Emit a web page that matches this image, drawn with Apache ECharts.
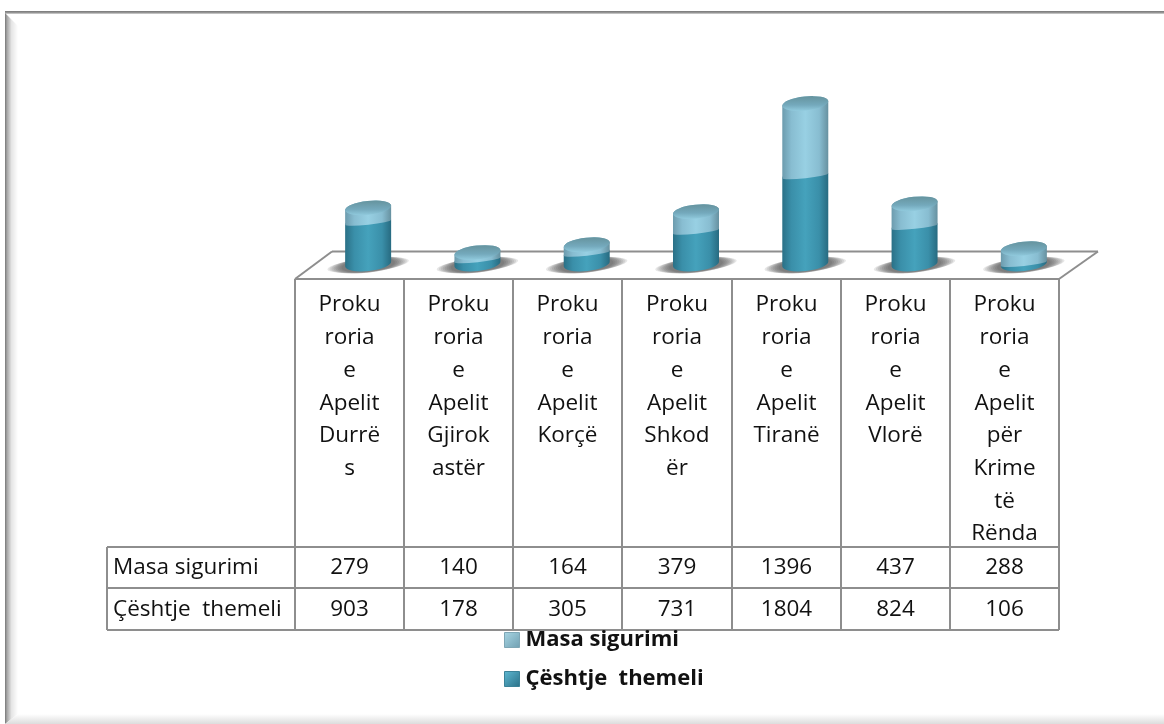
<!DOCTYPE html>
<html><head><meta charset="utf-8">
<style>html,body{margin:0;padding:0;background:#fff}#c{width:1164px;height:724px}</style>
<script src="https://cdn.jsdelivr.net/npm/echarts@6/dist/echarts.min.js"></script>
</head><body><div id="c"></div>
<script>
const categories = ['Proku\nroria\ne\nApelit\nDurrë\ns','Proku\nroria\ne\nApelit\nGjirok\nastër','Proku\nroria\ne\nApelit\nKorçë','Proku\nroria\ne\nApelit\nShkod\nër','Proku\nroria\ne\nApelit\nTiranë','Proku\nroria\ne\nApelit\nVlorë','Proku\nroria\ne\nApelit\npër\nKrime\ntë\nRënda'];
const masaName = 'Masa sigurimi';
const themeliName = 'Çështje  themeli';
const masa = [279,140,164,379,1396,437,288];
const themeli = [903,178,305,731,1804,824,106];

const FONT = '"Open Sans"';
const LINE = '#8e8e8e';
const DEG = 6.2, RAD = DEG*Math.PI/180, R = 23.13;

function grad(stops){ return {type:'linear',x:0,y:0,x2:1,y2:0,colorStops:stops.map(c=>({offset:c[0],color:c[1]}))}; }
const darkFill = grad([[0,'#2a7086'],[0.2,'#3a8fa9'],[0.5,'#45a2bc'],[0.8,'#3a8fa9'],[1,'#276a80']]);
const lightFill = grad([[0,'#6c9bad'],[0.2,'#88bdd1'],[0.5,'#98d0e3'],[0.8,'#88bdd1'],[1,'#66909f']]);
const capFill = {type:'linear',x:0,y:0,x2:0,y2:1,colorStops:[{offset:0,color:'#66949f'},{offset:0.6,color:'#74a9bc'},{offset:1,color:'#8fc8db'}]};

function pts(cx,cy,r){ const dx=r*Math.cos(RAD), dy=r*Math.sin(RAD); return [cx-dx,cy+dy,cx+dx,cy-dy]; }
function body(cx,yTop,yBot,ryTop,ryBot){
  const t=pts(cx,yTop,R), b=pts(cx,yBot,R);
  return `M ${t[0]} ${t[1]} L ${b[0]} ${b[1]} A ${R} ${ryBot} ${-DEG} 0 0 ${b[2]} ${b[3]} L ${t[2]} ${t[3]} A ${R} ${ryTop} ${-DEG} 0 0 ${t[0]} ${t[1]} Z`;
}
function ell(cx,cy,r,ry){
  const p=pts(cx,cy,r);
  return `M ${p[0]} ${p[1]} A ${r} ${ry} ${-DEG} 1 1 ${p[2]} ${p[3]} A ${r} ${ry} ${-DEG} 1 1 ${p[0]} ${p[1]} Z`;
}
const RINGS=[[41,6.5],[39,7],[37,7.5],[35,7.5],[33,7.5],[31,7.5],[29,7],[27,7]];
function renderLower(params,api){
  const idx=api.value(0);
  const top=api.coord([idx,api.value(1)]);
  const base=api.coord([idx,0]);
  const cx=top[0], yBot=base[1]-5;
  const kids=RINGS.map(r=>({type:'path',shape:{pathData:ell(cx,yBot+1,r[0],r[1])},style:{fill:'rgba(55,55,55,0.12)'}}));
  kids.push({type:'path',shape:{pathData:body(cx,top[1],yBot,7,7)},style:{fill:darkFill}});
  return {type:'group',children:kids};
}
function renderUpper(params,api){
  const idx=api.value(0);
  const low=api.coord([idx,api.value(1)]);
  const top=api.coord([idx,api.value(2)]);
  const cx=low[0], yL=low[1], yT=top[1];
  return {type:'group',children:[
    {type:'path',shape:{pathData:body(cx,yT,yL,7,2.5)},style:{fill:lightFill}},
    {type:'path',shape:{pathData:ell(cx,yT,R,7)},style:{fill:capFill}}
  ]};
}

const colX = [295,404,513,622,732,841,950,1059];
const yHead=279,yRow1=547,yRow2=588,yRow3=630,xLeft=107;
const g=[];
function line(x1,y1,x2,y2){ g.push({type:'line',z:1,shape:{x1,y1,x2,y2},style:{stroke:LINE,lineWidth:2}}); }
// outer frame
g.push({type:'rect',z:0,shape:{x:5,y:11,width:1159,height:3},style:{fill:{type:'linear',x:0,y:0,x2:0,y2:1,colorStops:[{offset:0,color:'#777'},{offset:0.6,color:'#999'},{offset:1,color:'#ddd'}]}}});
g.push({type:'polygon',z:0,shape:{points:[[5,13],[18,26],[18,714],[5,724]]},style:{fill:{type:'linear',x:0,y:0,x2:1,y2:0,colorStops:[{offset:0,color:'#777'},{offset:0.15,color:'#a5a5a5'},{offset:0.5,color:'#e5e5e5'},{offset:1,color:'#fff'}]}}});
g.push({type:'polygon',z:0,shape:{points:[[18,714],[1164,714],[1164,724],[5,724]]},style:{fill:{type:'linear',x:0,y:0,x2:0,y2:1,colorStops:[{offset:0,color:'#fff'},{offset:1,color:'#dcdcdc'}]}}});
// floor
line(295,279,332,251.5); line(332,251.5,1098,251.5); line(1098,251.5,1059,279);
// table
line(295,yHead,1059,yHead); line(xLeft,yRow1,1059,yRow1); line(xLeft,yRow2,1059,yRow2); line(xLeft,yRow3,1059,yRow3);
line(xLeft,yRow1,xLeft,yRow3);
colX.forEach(x=>line(x,yHead,x,yRow3));
function txt(text,x,y,align){ g.push({type:'text',z:3,style:{text,x,y,align:align||'center',verticalAlign:'middle',font:'22.5px '+FONT,fill:'#111'}}); }
categories.forEach((c,i)=>{
  const cx=(colX[i]+colX[i+1])/2;
  c.split('\n').forEach((s,k)=>txt(s,cx,305+k*32.7));
  txt(String(masa[i]),cx,568);
  txt(String(themeli[i]),cx,610);
});
txt(masaName,113,568,'left');
txt(themeliName,113,610,'left');

const mark = (a,b)=>({type:'linear',x:0,y:0,x2:1,y2:1,colorStops:[{offset:0,color:a},{offset:1,color:b}]});
const chart=echarts.init(document.getElementById('c'));
chart.setOption({
  animation:false,
  backgroundColor:'#fff',
  grid:{left:313.5,width:765,top:88,height:181},
  xAxis:{type:'category',data:categories,show:false},
  yAxis:{type:'value',min:0,max:3500,show:false},
  legend:{orient:'vertical',left:504,top:629,itemWidth:15,itemHeight:15,itemGap:17,icon:'rect',
    textStyle:{fontFamily:FONT,fontWeight:'bold',fontSize:22,color:'#111',padding:[0,0,0,1]},
    selectedMode:false,padding:0,z:5,
    data:[
      {name:masaName,itemStyle:{color:mark('#a9d6e4','#6f9fb1'),borderColor:'#7ea6b5',borderWidth:1}},
      {name:themeliName,itemStyle:{color:mark('#5fb9d3','#2a7087'),borderColor:'#3b8298',borderWidth:1}}
    ]},
  graphic:{elements:g},
  series:[
    {type:'custom',name:themeliName,z:2,renderItem:renderLower,encode:{x:0,y:1},
     itemStyle:{color:'#3d94ae'},data:themeli.map((v,i)=>[i,v])},
    {type:'custom',name:masaName,z:2,renderItem:renderUpper,encode:{x:0,y:2},
     itemStyle:{color:'#93c6d8'},data:masa.map((v,i)=>[i,themeli[i],themeli[i]+v])}
  ]
});
</script></body></html>
